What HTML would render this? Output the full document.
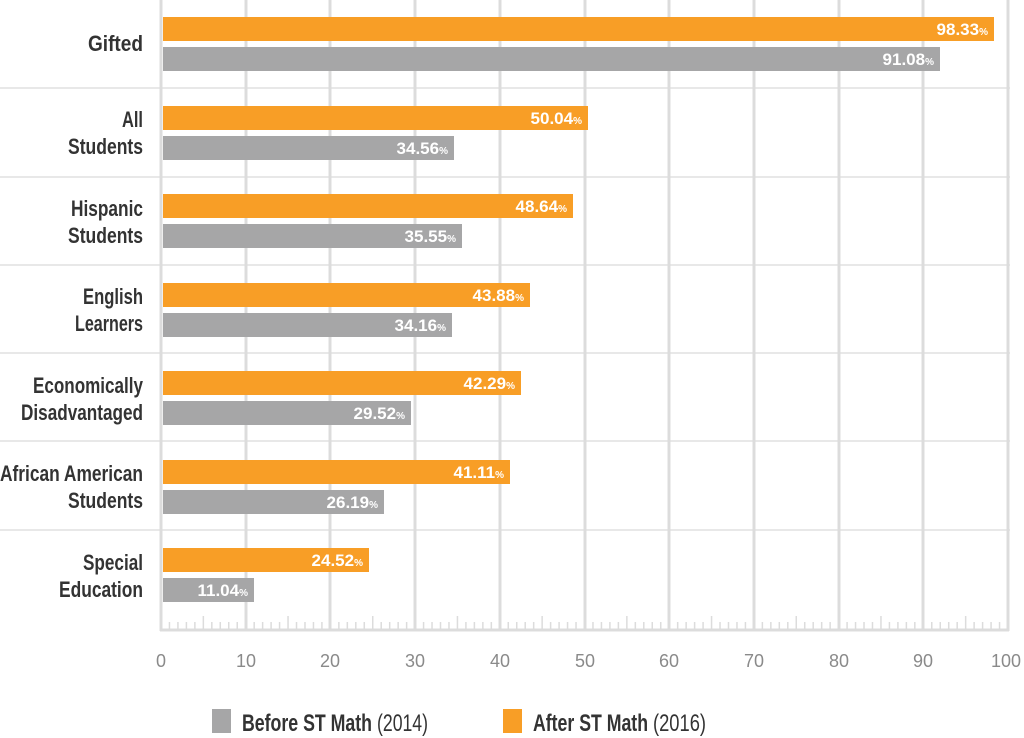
<!DOCTYPE html>
<html><head><meta charset="utf-8"><style>
html,body{margin:0;padding:0;background:#fff;}
svg{display:block;}
.cat{font-family:"Liberation Sans",sans-serif;font-weight:bold;font-size:22px;fill:#333;text-anchor:end;}
.val{font-family:"Liberation Sans",sans-serif;font-weight:bold;font-size:17px;fill:#fff;text-anchor:end;}
.pc{font-size:10px;}
.tick{font-family:"Liberation Sans",sans-serif;font-size:18px;fill:#8a8a8a;text-anchor:middle;}
.leg{font-family:"Liberation Sans",sans-serif;font-size:24px;fill:#333;}
</style></head><body>
<svg width="1024" height="738" viewBox="0 0 1024 738" xmlns="http://www.w3.org/2000/svg">
<g stroke="#e8e8e8" stroke-width="2">
<line x1="0" y1="88" x2="1010" y2="88"/><line x1="0" y1="177" x2="1010" y2="177"/>
<line x1="0" y1="265" x2="1010" y2="265"/><line x1="0" y1="353" x2="1010" y2="353"/>
<line x1="0" y1="441" x2="1010" y2="441"/><line x1="0" y1="530" x2="1010" y2="530"/>
</g>
<g stroke="#dcdcdc" stroke-width="3">
<line x1="161" y1="0" x2="161" y2="631"/><line x1="246" y1="0" x2="246" y2="631"/>
<line x1="330" y1="0" x2="330" y2="631"/><line x1="415" y1="0" x2="415" y2="631"/>
<line x1="500" y1="0" x2="500" y2="631"/><line x1="585" y1="0" x2="585" y2="631"/>
<line x1="669" y1="0" x2="669" y2="631"/><line x1="754" y1="0" x2="754" y2="631"/>
<line x1="839" y1="0" x2="839" y2="631"/><line x1="923" y1="0" x2="923" y2="631"/>
<line x1="1008" y1="0" x2="1008" y2="631"/>
<line x1="160" y1="630" x2="1009" y2="630"/>
</g>
<g id="ticks" stroke="#dcdcdc" stroke-width="1.5"></g>
<g fill="#F89E26">
<rect x="163" y="17" width="831" height="24"/><rect x="163" y="106" width="425" height="24"/>
<rect x="163" y="194" width="410" height="24"/><rect x="163" y="283" width="367" height="24"/>
<rect x="163" y="371" width="358" height="24"/><rect x="163" y="460" width="347" height="24"/>
<rect x="163" y="548" width="206" height="24"/>
</g>
<g fill="#A6A6A7">
<rect x="163" y="47" width="777" height="24"/><rect x="163" y="136" width="291" height="24"/>
<rect x="163" y="224" width="299" height="24"/><rect x="163" y="313" width="289" height="24"/>
<rect x="163" y="401" width="248" height="24"/><rect x="163" y="490" width="221" height="24"/>
<rect x="163" y="578" width="91" height="24"/>
</g>
<g class="val">
<text x="988" y="35">98.33<tspan class="pc">%</tspan></text>
<text x="934" y="65">91.08<tspan class="pc">%</tspan></text>
<text x="582" y="124">50.04<tspan class="pc">%</tspan></text>
<text x="448" y="154">34.56<tspan class="pc">%</tspan></text>
<text x="567" y="212">48.64<tspan class="pc">%</tspan></text>
<text x="456" y="242">35.55<tspan class="pc">%</tspan></text>
<text x="524" y="301">43.88<tspan class="pc">%</tspan></text>
<text x="446" y="331">34.16<tspan class="pc">%</tspan></text>
<text x="515" y="389">42.29<tspan class="pc">%</tspan></text>
<text x="405" y="419">29.52<tspan class="pc">%</tspan></text>
<text x="504" y="478">41.11<tspan class="pc">%</tspan></text>
<text x="378" y="508">26.19<tspan class="pc">%</tspan></text>
<text x="363" y="566">24.52<tspan class="pc">%</tspan></text>
<text x="248" y="596">11.04<tspan class="pc">%</tspan></text>
</g>
<g class="cat">
<text x="143" y="51" textLength="55" lengthAdjust="spacingAndGlyphs">Gifted</text>
<text x="143" y="127" textLength="21" lengthAdjust="spacingAndGlyphs">All</text><text x="143" y="154" textLength="75" lengthAdjust="spacingAndGlyphs">Students</text>
<text x="143" y="216" textLength="72" lengthAdjust="spacingAndGlyphs">Hispanic</text><text x="143" y="243" textLength="75" lengthAdjust="spacingAndGlyphs">Students</text>
<text x="143" y="304" textLength="60" lengthAdjust="spacingAndGlyphs">English</text><text x="143" y="331" textLength="68" lengthAdjust="spacingAndGlyphs">Learners</text>
<text x="143" y="393" textLength="110" lengthAdjust="spacingAndGlyphs">Economically</text><text x="143" y="420" textLength="122" lengthAdjust="spacingAndGlyphs">Disadvantaged</text>
<text x="143" y="481" textLength="143" lengthAdjust="spacingAndGlyphs">African American</text><text x="143" y="508" textLength="75" lengthAdjust="spacingAndGlyphs">Students</text>
<text x="143" y="570" textLength="60" lengthAdjust="spacingAndGlyphs">Special</text><text x="143" y="597" textLength="84" lengthAdjust="spacingAndGlyphs">Education</text>
</g>
<g class="tick">
<text x="161" y="667">0</text><text x="246" y="667">10</text><text x="330" y="667">20</text>
<text x="415" y="667">30</text><text x="500" y="667">40</text><text x="585" y="667">50</text>
<text x="669" y="667">60</text><text x="754" y="667">70</text><text x="839" y="667">80</text>
<text x="923" y="667">90</text><text x="1006" y="667">100</text>
</g>
<rect x="212" y="709" width="19" height="24" fill="#A6A6A7"/>
<text class="leg" x="242" y="731" font-weight="bold" textLength="130" lengthAdjust="spacingAndGlyphs">Before ST Math</text>
<text class="leg" x="377" y="731" textLength="51" lengthAdjust="spacingAndGlyphs">(2014)</text>
<rect x="503" y="709" width="19" height="24" fill="#F89E26"/>
<text class="leg" x="533" y="731" font-weight="bold" textLength="115" lengthAdjust="spacingAndGlyphs">After ST Math</text>
<text class="leg" x="653" y="731" textLength="53" lengthAdjust="spacingAndGlyphs">(2016)</text>
</svg>
<script>
var g=document.getElementById('ticks'),s='';
for(var i=1;i<100;i++){if(i%10==0)continue;var x=161+i*8.47;var h=(i%5==0)?13:7;
s+='<line x1="'+x+'" y1="'+(629-h)+'" x2="'+x+'" y2="629"/>';}
g.innerHTML=s;
</script>
</body></html>
